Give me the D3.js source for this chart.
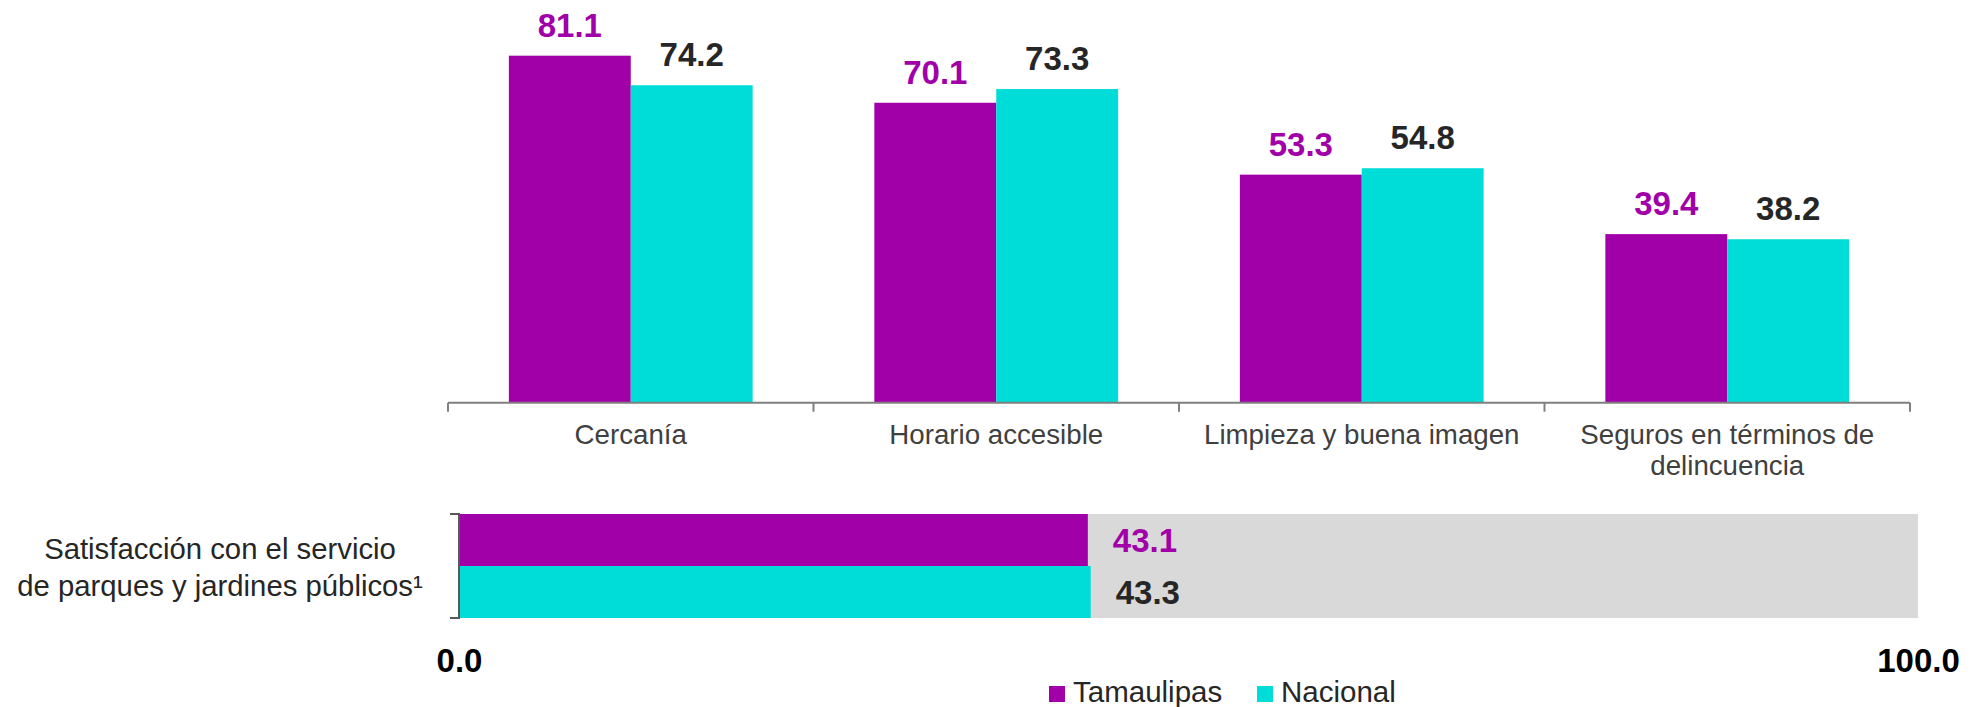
<!DOCTYPE html>
<html>
<head>
<meta charset="utf-8">
<script src="https://cdn.jsdelivr.net/npm/d3@7"></script>
<style>
  body { margin: 0; background: #fff; }
  svg { display: block; font-family: "Liberation Sans", Arial, sans-serif; }
  .cat-axis text { font-size: 27.7px; fill: #404040; }
  .cat-axis path, .cat-axis line { stroke: #7f7f7f; stroke-width: 2; }
</style>
</head>
<body>
<svg id="chart" width="1975" height="707"></svg>
<script>
// data
const series = ["Tamaulipas", "Nacional"];
const categories = ["Cercanía", "Horario accesible", "Limpieza y buena imagen", "Seguros en términos de delincuencia"];
const tamaulipas = [81.1, 70.1, 53.3, 39.4];
const nacional = [74.2, 73.3, 54.8, 38.2];
const satisfLabel = ["Satisfacción con el servicio", "de parques y jardines públicos¹"];
const satisfValues = [43.1, 43.3];
const satisfTicks = [0, 100];

const colors = { Tamaulipas: "#a100a9", Nacional: "#00ddd8" };
const labelColors = { Tamaulipas: "#a100a9", Nacional: "#262626" };

const svg = d3.select("#chart");

// ---- top grouped bars
const x0 = d3.scaleBand().domain(categories).range([448, 1910]);
const groupW = x0.bandwidth() * 0.667;
const x1 = d3.scaleBand().domain(series)
  .range([(x0.bandwidth() - groupW) / 2, (x0.bandwidth() + groupW) / 2]);
const y = d3.scaleLinear().domain([0, 90]).range([402.7, 17.6]);

const rows = categories.map((c, i) => ({
  cat: c,
  vals: [{ s: "Tamaulipas", v: tamaulipas[i] }, { s: "Nacional", v: nacional[i] }]
}));

const groups = svg.append("g").selectAll("g")
  .data(rows).enter().append("g")
  .attr("transform", d => "translate(" + x0(d.cat) + ",0)");

groups.selectAll("rect")
  .data(d => d.vals).enter().append("rect")
  .attr("x", d => x1(d.s))
  .attr("y", d => y(d.v))
  .attr("width", x1.bandwidth())
  .attr("height", d => y(0) - y(d.v))
  .attr("fill", d => colors[d.s]);

groups.selectAll("text")
  .data(d => d.vals).enter().append("text")
  .attr("x", d => x1(d.s) + x1.bandwidth() / 2)
  .attr("y", d => y(d.v) - 19)
  .attr("text-anchor", "middle")
  .style("font-size", "33px")
  .style("font-weight", "bold")
  .attr("fill", d => labelColors[d.s])
  .text(d => d.v.toFixed(1));

// category axis with ticks at band edges
const axisG = svg.append("g")
  .attr("class", "cat-axis")
  .attr("transform", "translate(0," + y(0) + ")")
  .call(d3.axisBottom(x0).tickSize(0).tickSizeOuter(0));
axisG.select(".domain").attr("d", "M" + x0.range()[0] + ",0H" + x0.range()[1]);
axisG.selectAll(".edge")
  .data(categories.map(c => x0(c)).concat([x0.range()[1]]))
  .enter().append("line")
  .attr("x1", d => d).attr("x2", d => d)
  .attr("y1", 0).attr("y2", 9);
axisG.selectAll(".tick text").attr("dy", 0).attr("y", 41)
  .call(wrap, 340);

function wrap(sel, width) {
  sel.each(function() {
    const t = d3.select(this);
    const words = t.text().split(" ");
    t.text(null);
    let line = [];
    let lineNo = 0;
    let ts = t.append("tspan").attr("x", 0).attr("y", 41);
    words.forEach(w => {
      line.push(w);
      ts.text(line.join(" "));
      if (ts.node().getComputedTextLength() > width && line.length > 1) {
        line.pop();
        ts.text(line.join(" "));
        line = [w];
        lineNo++;
        ts = t.append("tspan").attr("x", 0).attr("y", 41 + lineNo * 31).text(w);
      }
    });
  });
}

// ---- bottom satisfaction bar
const xs = d3.scaleLinear().domain([0, 100]).range([459, 1918]);
const ys = d3.scaleBand().domain(series).range([514, 618]);

svg.append("rect")
  .attr("x", xs(0)).attr("y", ys.range()[0])
  .attr("width", xs(100) - xs(0))
  .attr("height", ys.range()[1] - ys.range()[0])
  .attr("fill", "#d9d9d9");

const sData = series.map((s, i) => ({ s: s, v: satisfValues[i] }));

svg.append("g").selectAll("rect")
  .data(sData).enter().append("rect")
  .attr("x", xs(0))
  .attr("y", d => ys(d.s))
  .attr("width", d => xs(d.v) - xs(0))
  .attr("height", ys.bandwidth())
  .attr("fill", d => colors[d.s]);

svg.append("g").selectAll("text")
  .data(sData).enter().append("text")
  .attr("x", d => xs(d.v) + 25)
  .attr("y", d => ys(d.s) + ys.bandwidth() / 2 + 12)
  .style("font-size", "33px")
  .style("font-weight", "bold")
  .attr("fill", d => labelColors[d.s])
  .text(d => d.v.toFixed(1));

// bracket-like left axis
svg.append("path")
  .attr("d", "M" + (xs(0) - 9) + "," + ys.range()[0] + "H" + xs(0) + "V" + ys.range()[1] + "H" + (xs(0) - 9))
  .attr("fill", "none")
  .attr("stroke", "#595959")
  .attr("stroke-width", 2);

svg.append("text")
  .attr("x", 220)
  .attr("y", 559)
  .attr("text-anchor", "middle")
  .style("font-size", "29.3px")
  .attr("fill", "#262626")
  .selectAll("tspan")
  .data(satisfLabel).enter().append("tspan")
  .attr("x", 220)
  .attr("dy", (d, i) => i === 0 ? 0 : 37)
  .text(d => d);

// 0.0 / 100.0 scale labels
const sAxis = svg.append("g")
  .attr("transform", "translate(0,672)")
  .call(d3.axisBottom(xs).tickValues(satisfTicks).tickFormat(d3.format(".1f")).tickSize(0));
sAxis.select(".domain").remove();
sAxis.selectAll("text")
  .attr("y", 0).attr("dy", 0)
  .style("font-size", "33px")
  .style("font-weight", "bold")
  .style("font-family", "'Liberation Sans', Arial, sans-serif")
  .attr("fill", "#000");

// ---- legend
const legendX = [1049, 1257];
const legend = svg.append("g").selectAll("g")
  .data(series).enter().append("g")
  .attr("transform", (d, i) => "translate(" + legendX[i] + ",0)");
legend.append("rect")
  .attr("x", 0).attr("y", 686).attr("width", 16).attr("height", 16)
  .attr("fill", d => colors[d]);
legend.append("text")
  .attr("x", 24).attr("y", 702)
  .style("font-size", "29.5px")
  .attr("fill", "#262626")
  .text(d => d);
</script>
</body>
</html>
